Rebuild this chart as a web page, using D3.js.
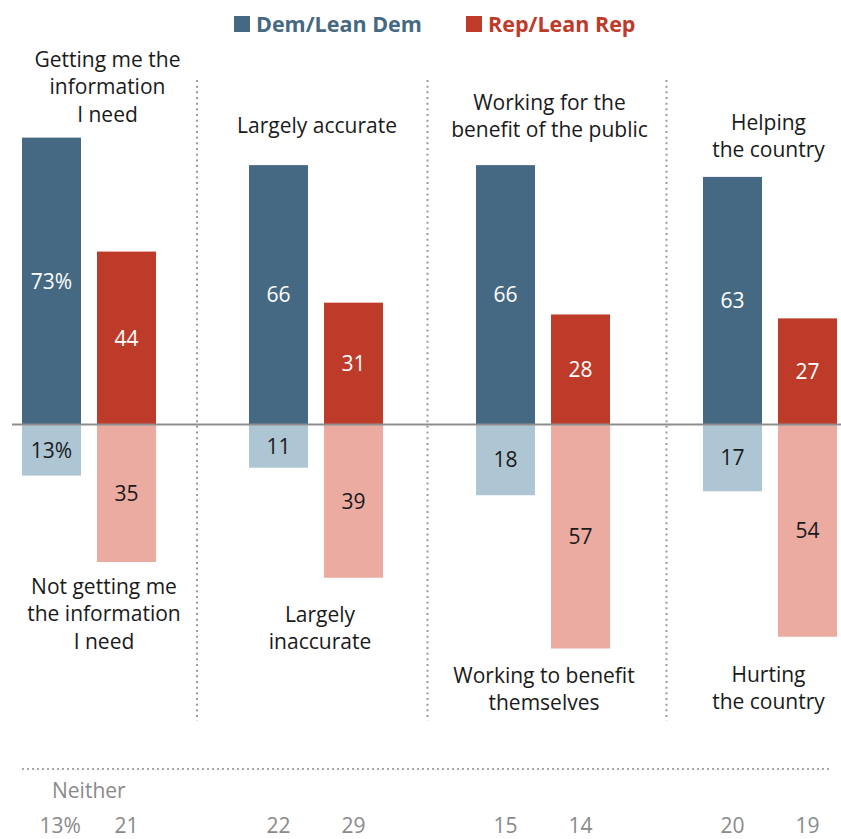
<!DOCTYPE html>
<html>
<head>
<meta charset="utf-8">
<script src="https://cdn.jsdelivr.net/npm/d3@7"></script>
<style>
  html, body { margin: 0; padding: 0; background: #fff; }
  svg { display: block; font-family: "Open Sans", sans-serif; }
</style>
</head>
<body>
<svg id="chart" width="841" height="839"></svg>
<script>
// Survey measures: share saying each positive / negative statement applies
const measures = ["info", "accurate", "public", "country"];
const series = ["Dem/Lean Dem", "Rep/Lean Rep"];

const positiveDem = [73, 66, 66, 63];
const positiveRep = [44, 31, 28, 27];
const negativeDem = [13, 11, 18, 17];
const negativeRep = [35, 39, 57, 54];
const neitherDem = [13, 22, 15, 20];
const neitherRep = [21, 29, 14, 19];

const positiveLabels = [
  ["Getting me the", "information", "I need"],
  ["Largely accurate"],
  ["Working for the", "benefit of the public"],
  ["Helping", "the country"]
];
const negativeLabels = [
  ["Not getting me", "the information", "I need"],
  ["Largely", "inaccurate"],
  ["Working to benefit", "themselves"],
  ["Hurting", "the country"]
];

// Colours
const darkBlue = "#466983", darkRed = "#be3a29";
const lightBlue = "#aec5d3", lightRed = "#ebaba1";

// Layout
const svg = d3.select("#chart");
const baseY = 424.5, pxPerPoint = 3.93;
const y = d3.scaleLinear()
  .domain([-60, 80])
  .range([baseY + 60 * pxPerPoint, baseY - 80 * pxPerPoint]);

const x0 = d3.scaleBand().domain(measures).range([22, 837])
  .paddingInner(93 / 227).paddingOuter(0);
const x1 = d3.scaleBand().domain(["dem", "rep"]).range([0, x0.bandwidth()])
  .paddingInner(16 / 75).paddingOuter(0);

const lineH = 27.3;
// per-measure nudges for the statement captions
const topNudge = [{dx: 18.5, gap: 16}, {dx: 1, gap: 32}, {dx: 6.5, gap: 28}, {dx: -1.5, gap: 20}];
const botNudge = [{dx: 15, gap: 32}, {dx: 4, gap: 44}, {dx: 1, gap: 34}, {dx: -1.5, gap: 45}];
const sepNudge = [-5.5, -2, 10];

// Legend
const legend = svg.append("g");
[[234, series[0], darkBlue], [466, series[1], darkRed]].forEach(([lx, name, c]) => {
  legend.append("rect").attr("x", lx).attr("y", 16).attr("width", 16).attr("height", 16).attr("fill", c);
  legend.append("text").attr("x", lx + 22).attr("y", 32)
    .attr("font-size", 21.5).attr("font-weight", 700).attr("fill", c).text(name);
});

// Dotted separators between measures
measures.slice(0, -1).forEach((m, i) => {
  const sx = (x0(m) + x0.bandwidth() + x0(measures[i + 1])) / 2 + sepNudge[i];
  svg.append("line").attr("x1", sx).attr("x2", sx).attr("y1", 80).attr("y2", 721)
    .attr("stroke", "#9a9a9a").attr("stroke-width", 2).attr("stroke-dasharray", "2 3.67");
});

// Bars
const rows = measures.map((m, i) => ({
  m, i,
  bars: [
    {key: "dem", v: positiveDem[i], neg: false, fill: darkBlue, tc: "#fff"},
    {key: "rep", v: positiveRep[i], neg: false, fill: darkRed, tc: "#fff"},
    {key: "dem", v: negativeDem[i], neg: true, fill: lightBlue, tc: "#1a1a1a"},
    {key: "rep", v: negativeRep[i], neg: true, fill: lightRed, tc: "#1a1a1a"}
  ]
}));

const g = svg.selectAll("g.measure").data(rows).join("g")
  .attr("class", "measure")
  .attr("transform", d => `translate(${x0(d.m)},0)`);

g.selectAll("rect.bar").data(d => d.bars).join("rect")
  .attr("class", "bar")
  .attr("x", b => x1(b.key))
  .attr("width", x1.bandwidth())
  .attr("y", b => b.neg ? y(0) : y(b.v))
  .attr("height", b => Math.abs(y(b.v) - y(0)))
  .attr("fill", b => b.fill);

g.selectAll("text.val").data(d => d.bars.map(b => ({...b, first: d.i === 0 && b.key === "dem"}))).join("text")
  .attr("class", "val")
  .attr("x", b => x1(b.key) + x1.bandwidth() / 2)
  .attr("y", b => (y(0) + (b.neg ? y(-b.v) : y(b.v))) / 2)
  .attr("dy", "0.36em")
  .attr("text-anchor", "middle")
  .attr("font-size", 21)
  .attr("fill", b => b.tc)
  .text(b => b.first ? b.v + "%" : b.v);

// Zero line
svg.append("line").attr("x1", 12).attr("x2", 841).attr("y1", y(0)).attr("y2", y(0))
  .attr("stroke", "#8e8e8e").attr("stroke-width", 2.2);

// Statement captions
rows.forEach(({m, i}) => {
  const cx = x0(m) + x0.bandwidth() / 2;
  const topLines = positiveLabels[i];
  const lastBase = y(positiveDem[i]) - topNudge[i].gap;
  const tt = svg.append("text").attr("text-anchor", "middle").attr("font-size", 21).attr("fill", "#1a1a1a");
  topLines.forEach((t, k) => {
    tt.append("tspan").attr("x", cx + topNudge[i].dx)
      .attr("y", lastBase - (topLines.length - 1 - k) * lineH).text(t);
  });
  const lowest = Math.max(negativeDem[i], negativeRep[i]);
  const firstBase = y(-lowest) + botNudge[i].gap;
  const bt = svg.append("text").attr("text-anchor", "middle").attr("font-size", 21).attr("fill", "#1a1a1a");
  negativeLabels[i].forEach((t, k) => {
    bt.append("tspan").attr("x", cx + botNudge[i].dx).attr("y", firstBase + k * lineH).text(t);
  });
});

// "Neither" strip
svg.append("line").attr("x1", 22).attr("x2", 831).attr("y1", 769).attr("y2", 769)
  .attr("stroke", "#a8a8a8").attr("stroke-width", 1.8).attr("stroke-dasharray", "2 3");
svg.append("text").attr("x", 52).attr("y", 798).attr("font-size", 21)
  .attr("fill", "#8a8a8a").text("Neither");

rows.forEach(({m, i}) => {
  [["dem", neitherDem[i]], ["rep", neitherRep[i]]].forEach(([k, v]) => {
    const cx = x0(m) + x1(k) + x1.bandwidth() / 2;
    const first = i === 0 && k === "dem";
    const t = svg.append("text").attr("y", 833).attr("font-size", 21).attr("fill", "#8a8a8a");
    if (first) {
      t.attr("x", cx - 12).attr("text-anchor", "start").text(v + "%");
    } else {
      t.attr("x", cx).attr("text-anchor", "middle").text(v);
    }
  });
});
</script>
</body>
</html>
